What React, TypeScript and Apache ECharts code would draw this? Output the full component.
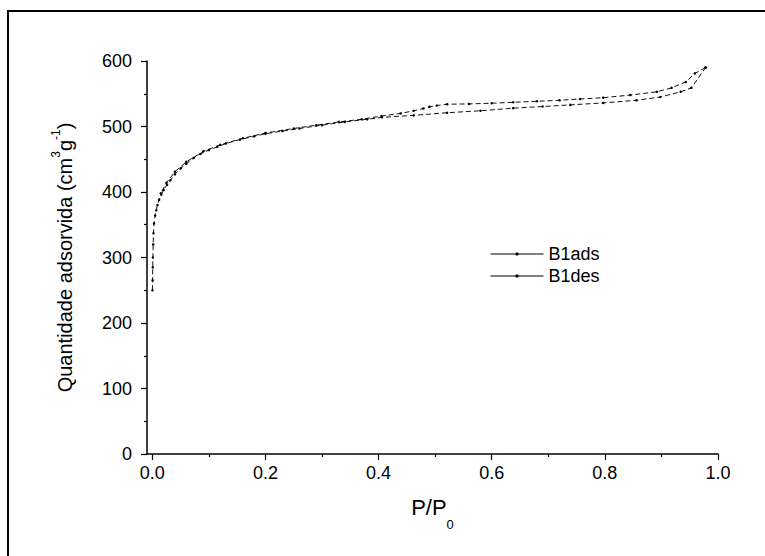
import React, { useEffect, useRef } from "react";
import * as echarts from "echarts";

// Adsorption branch (P/P0, volume cm3/g)
const adsP = [0.0002, 0.0005, 0.0008, 0.001, 0.0015, 0.002, 0.003, 0.005, 0.007, 0.009, 0.012, 0.016, 0.02, 0.026, 0.032, 0.04, 0.05, 0.06, 0.073, 0.085, 0.1, 0.115, 0.13, 0.155, 0.18, 0.2, 0.23, 0.26, 0.3, 0.34, 0.38, 0.406, 0.462, 0.521, 0.58, 0.638, 0.69, 0.739, 0.797, 0.856, 0.898, 0.934, 0.953, 0.978];
const adsV = [250, 265, 285, 300, 320, 337, 352, 364, 372, 380, 388, 396, 403, 411, 418, 427, 436, 443, 452, 458, 464, 469, 474, 480, 485, 489, 493, 497, 502, 507, 511, 514, 517, 521, 524, 528, 530.5, 533, 536, 540, 545, 553, 559, 590];

// Desorption branch
const desP = [0.978, 0.959, 0.943, 0.918, 0.892, 0.845, 0.797, 0.756, 0.72, 0.68, 0.638, 0.6, 0.56, 0.521, 0.503, 0.49, 0.479, 0.462, 0.439, 0.405, 0.37, 0.33, 0.29, 0.25, 0.2, 0.16, 0.12, 0.09, 0.06, 0.04, 0.025, 0.015];
const desV = [590, 581, 568, 559, 553, 548, 544, 542, 540, 538.5, 537, 535.5, 534.5, 534, 532, 530, 527.5, 524, 520, 516, 511, 507, 502, 497, 490, 482, 472, 462, 446, 431, 414, 398];

const seriesNames = ["B1ads", "B1des"];
const xMajorTicks = [0, 0.2, 0.4, 0.6, 0.8, 1.0];
const xMinorTicks = [0.1, 0.3, 0.5, 0.7, 0.9];

const FONT = "'Liberation Sans', Arial, Helvetica, sans-serif";

export default function App() {
  const ref = useRef<HTMLDivElement>(null);
  useEffect(() => {
    if (!ref.current) return;
    const chart = echarts.init(ref.current, null, { renderer: "svg" });
    const xMin = -0.0094;
    const xMax = 1.0;
    const lineStyle = { color: "#000", width: 1.5 };
    const seriesLine = { color: "#111", width: 1, type: [5, 3] as any };
    chart.setOption({
      animation: false,
      backgroundColor: "#fff",
      textStyle: { fontFamily: FONT, color: "#000" },
      graphic: [
        { type: "line", shape: { x1: 7, y1: 11, x2: 765, y2: 11 }, style: { stroke: "#000", lineWidth: 2 } },
        { type: "line", shape: { x1: 8, y1: 10, x2: 8, y2: 556 }, style: { stroke: "#000", lineWidth: 2 } },
      ],
      grid: { left: 147, right: 47, top: 61, bottom: 102, containLabel: false },
      legend: {
        orient: "vertical",
        left: 485,
        top: 240,
        itemWidth: 53,
        itemHeight: 4,
        itemGap: 4,
        data: seriesNames,
        lineStyle: { type: "solid", width: 1, color: "#000" },
        itemStyle: { color: "#000" },
        textStyle: { fontFamily: FONT, fontSize: 18, color: "#000", lineHeight: 18 },
      },
      xAxis: [
        {
          type: "value",
          min: xMin,
          max: xMax,
          axisLine: { show: true, onZero: false, lineStyle },
          axisTick: { show: true, customValues: xMajorTicks, length: 6, lineStyle: { color: "#000", width: 1.2 } },
          axisLabel: {
            customValues: xMajorTicks,
            formatter: (v: number) => v.toFixed(1),
            fontSize: 18,
            color: "#000",
            fontFamily: FONT,
            margin: 10,
          },
          splitLine: { show: false },
          name: "{p|P/P}{sub|0}",
          nameLocation: "middle",
          nameGap: 29,
          nameTextStyle: {
            rich: {
              p: { fontSize: 22, lineHeight: 48, fontFamily: FONT, color: "#000" },
              sub: { fontSize: 13, lineHeight: 13, verticalAlign: "bottom", fontFamily: FONT, color: "#000" },
            },
          },
        },
        {
          type: "value",
          min: xMin,
          max: xMax,
          position: "bottom",
          axisLine: { show: false, onZero: false },
          axisTick: { show: true, customValues: xMinorTicks, length: 3, lineStyle: { color: "#000", width: 1.2 } },
          axisLabel: { show: false },
          splitLine: { show: false },
        },
      ],
      yAxis: {
        type: "value",
        min: 0,
        max: 600,
        interval: 100,
        axisLine: { show: true, onZero: false, lineStyle },
        axisTick: { show: true, length: 6, lineStyle: { color: "#000", width: 1.2 } },
        minorTick: { show: true, splitNumber: 2, length: 3, lineStyle: { color: "#000", width: 1.2 } },
        axisLabel: { fontSize: 18, color: "#000", fontFamily: FONT, margin: 15 },
        splitLine: { show: false },
        name: "{a|Quantidade adsorvida (cm}{s|3}{a|g}{s|-1}{a|)}",
        nameLocation: "middle",
        nameRotate: 90,
        nameGap: 67,
        nameTextStyle: {
          rich: {
            a: { fontSize: 20, lineHeight: 30, fontFamily: FONT, color: "#000" },
            s: { fontSize: 12, lineHeight: 12, verticalAlign: "top", fontFamily: FONT, color: "#000" },
          },
        },
      },
      series: [
        {
          name: seriesNames[0],
          type: "line",
          xAxisIndex: 0,
          data: adsP.map((p, i) => [p, adsV[i]]),
          symbol: "circle",
          symbolSize: 2.5,
          showSymbol: true,
          lineStyle: seriesLine,
          itemStyle: { color: "#000" },
        },
        {
          name: seriesNames[1],
          type: "line",
          xAxisIndex: 0,
          data: desP.map((p, i) => [p, desV[i]]),
          symbol: "circle",
          symbolSize: 2.5,
          showSymbol: true,
          lineStyle: seriesLine,
          itemStyle: { color: "#000" },
        },
      ],
    });
    return () => chart.dispose();
  }, []);
  return (
    <div
      ref={ref}
      style={{ position: "fixed", left: 0, top: 0, width: 765, height: 556, background: "#fff" }}
    />
  );
}
